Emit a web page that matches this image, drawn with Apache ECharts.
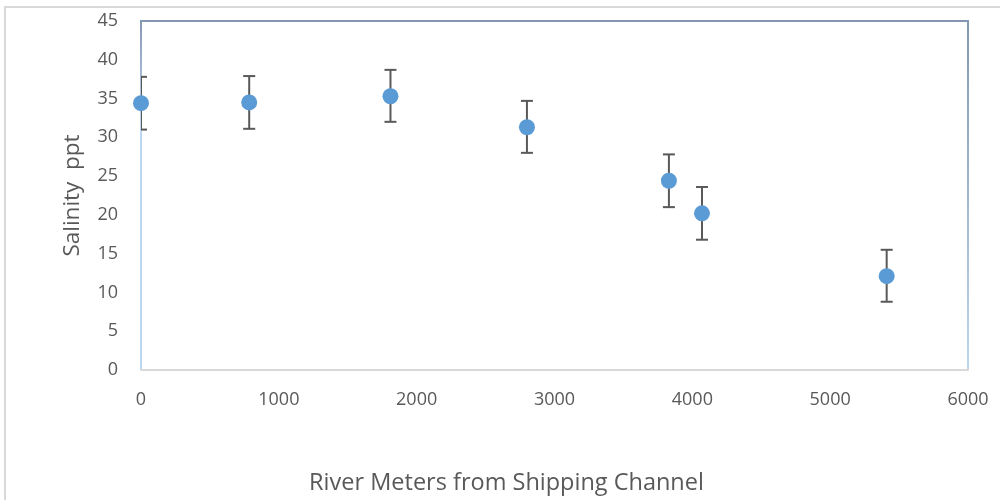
<!DOCTYPE html>
<html>
<head>
<meta charset="utf-8">
<script src="https://cdn.jsdelivr.net/npm/echarts@6/dist/echarts.min.js"></script>
<style>
  html, body { margin: 0; padding: 0; background: #fff; }
  #chart { width: 1000px; height: 500px; }
</style>
</head>
<body>
<div id="chart"></div>
<script>
// distance along the river (m) and salinity (ppt)
const meters = [0, 785, 1810, 2800, 3830, 4070, 5410];
const salinity = [34.4, 34.5, 35.3, 31.3, 24.4, 20.2, 12.1];
const errLow = [31.0, 31.1, 32.0, 28.0, 21.0, 16.8, 8.8];
const errHigh = [37.8, 37.9, 38.7, 34.7, 27.8, 23.6, 15.5];

const xTicks = [0, 1000, 2000, 3000, 4000, 5000, 6000];
const yTicks = [0, 5, 10, 15, 20, 25, 30, 35, 40, 45];

const chart = echarts.init(document.getElementById('chart'));

const textColor = '#595959';
const font = 'Open Sans';

const points = meters.map((m, i) => [m, salinity[i]]);
const bars = meters.map((m, i) => [m, errLow[i], errHigh[i]]);

const option = {
  animation: false,
  grid: { left: 141, right: 32, top: 21, bottom: 130, show: false },
  xAxis: {
    type: 'value',
    min: xTicks[0],
    max: xTicks[xTicks.length - 1],
    interval: 1000,
    name: 'River Meters from Shipping Channel',
    nameLocation: 'middle',
    nameGap: 101,
    // the title sits a bit left of the plot centre
    nameTextStyle: { color: textColor, fontFamily: font, fontSize: 23.5, padding: [0, 96, 0, 0] },
    axisLine: { show: true, lineStyle: { color: '#d9d9d9', width: 2 } },
    axisTick: { show: false },
    splitLine: { show: false },
    axisLabel: {
      color: textColor, fontFamily: font, fontSize: 18, margin: 21,
      formatter: v => String(v)
    }
  },
  yAxis: {
    type: 'value',
    min: yTicks[0],
    max: yTicks[yTicks.length - 1],
    interval: 5,
    name: 'Salinity  ppt',
    nameLocation: 'middle',
    nameGap: 57,
    nameTextStyle: { color: textColor, fontFamily: font, fontSize: 22.5 },
    axisLine: { show: false },
    axisTick: { show: false },
    splitLine: { show: false },
    axisLabel: {
      color: textColor, fontFamily: font, fontSize: 18, margin: 23,
      formatter: v => String(v)
    }
  },
  graphic: [
    {
      type: 'rect',
      shape: { x: 5, y: 7, width: 1100, height: 600 },
      style: { fill: 'none', stroke: '#d9d9d9', lineWidth: 2 },
      silent: true
    },
    {
      type: 'line',
      shape: { x1: 141, y1: 21, x2: 968, y2: 21 },
      style: { stroke: '#8497b0', lineWidth: 2 },
      silent: true
    },
    {
      type: 'line',
      shape: { x1: 968, y1: 20, x2: 968, y2: 370 },
      style: {
        lineWidth: 2,
        stroke: new echarts.graphic.LinearGradient(0, 0, 0, 1, [
          { offset: 0, color: '#8497b0' },
          { offset: 1, color: '#bdd7ee' }
        ])
      },
      silent: true
    },
    {
      type: 'line',
      shape: { x1: 141, y1: 20, x2: 141, y2: 370 },
      style: {
        lineWidth: 2,
        stroke: new echarts.graphic.LinearGradient(0, 0, 0, 1, [
          { offset: 0, color: '#8497b0' },
          { offset: 0.3, color: '#bdd7ee' },
          { offset: 1, color: '#bdd7ee' }
        ])
      },
      silent: true
    }
  ],
  series: [
    {
      type: 'custom',
      clip: true,
      data: bars,
      renderItem: (params, api) => {
        const x = api.value(0);
        const lo = api.coord([x, api.value(1)]);
        const hi = api.coord([x, api.value(2)]);
        const half = 6;
        const style = { stroke: '#595959', lineWidth: 2 };
        return {
          type: 'group',
          children: [
            { type: 'line', shape: { x1: hi[0], y1: hi[1], x2: lo[0], y2: lo[1] }, style },
            { type: 'line', shape: { x1: hi[0] - half, y1: hi[1], x2: hi[0] + half, y2: hi[1] }, style },
            { type: 'line', shape: { x1: lo[0] - half, y1: lo[1], x2: lo[0] + half, y2: lo[1] }, style }
          ]
        };
      },
      z: 2
    },
    {
      type: 'scatter',
      data: points,
      symbol: 'circle',
      symbolSize: 16,
      clip: false,
      itemStyle: { color: '#5b9bd5', opacity: 1 },
      z: 3
    }
  ]
};

chart.setOption(option);
</script>
</body>
</html>
